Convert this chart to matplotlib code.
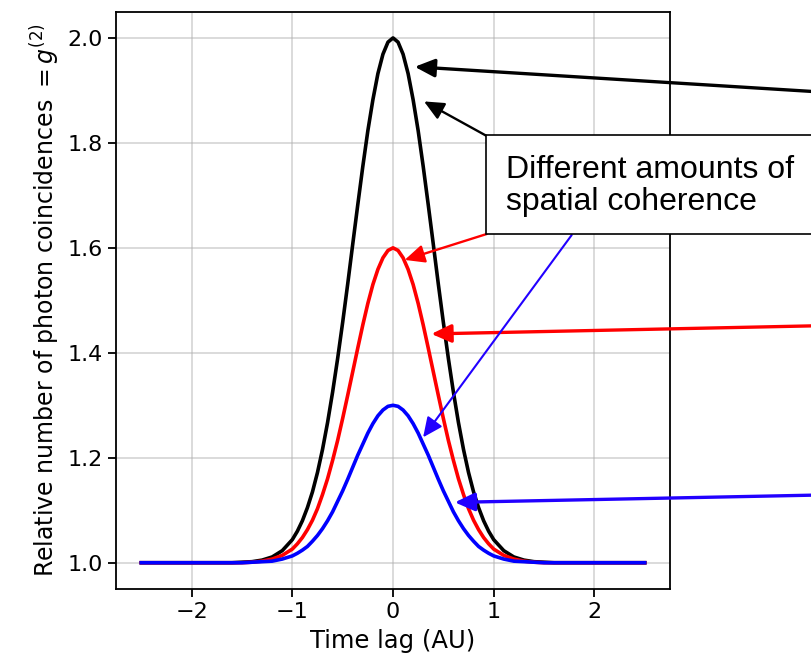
import matplotlib.pyplot as plt
from matplotlib.patches import Rectangle

# time lag samples (AU) and g2 values
time_lag = [-2.5, -2.0, -1.6, -1.5, -1.4, -1.3, -1.2, -1.1,
            -1.0, -0.95, -0.9, -0.85, -0.8, -0.75, -0.7, -0.65, -0.6, -0.55,
            -0.5, -0.45, -0.4, -0.35, -0.3, -0.25, -0.2, -0.15, -0.1, -0.05,
            0.0,
            0.05, 0.1, 0.15, 0.2, 0.25, 0.3, 0.35, 0.4, 0.45, 0.5,
            0.55, 0.6, 0.65, 0.7, 0.75, 0.8, 0.85, 0.9, 0.95, 1.0,
            1.1, 1.2, 1.3, 1.4, 1.5, 1.6, 2.0, 2.5]

g2_full = [1.000, 1.000, 1.000, 1.001, 1.002, 1.005, 1.011, 1.023,
           1.044, 1.060, 1.080, 1.105, 1.135, 1.172, 1.216, 1.267, 1.325, 1.389,
           1.458, 1.531, 1.607, 1.682, 1.755, 1.823, 1.882, 1.932, 1.969, 1.992,
           2.000,
           1.992, 1.969, 1.932, 1.882, 1.823, 1.755, 1.682, 1.607, 1.531, 1.458,
           1.389, 1.325, 1.267, 1.216, 1.172, 1.135, 1.105, 1.080, 1.060, 1.044,
           1.023, 1.011, 1.005, 1.002, 1.001, 1.000, 1.000, 1.000]

g2_partial = [1.000, 1.000, 1.000, 1.000, 1.001, 1.003, 1.007, 1.014,
              1.026, 1.036, 1.048, 1.063, 1.081, 1.103, 1.130, 1.160, 1.195, 1.233,
              1.275, 1.319, 1.364, 1.409, 1.453, 1.494, 1.530, 1.559, 1.581, 1.595,
              1.600,
              1.595, 1.581, 1.559, 1.530, 1.494, 1.453, 1.409, 1.364, 1.319, 1.275,
              1.233, 1.195, 1.160, 1.130, 1.103, 1.081, 1.063, 1.048, 1.036, 1.026,
              1.014, 1.007, 1.003, 1.001, 1.000, 1.000, 1.000, 1.000]

g2_low = [1.000, 1.000, 1.000, 1.000, 1.001, 1.002, 1.003, 1.007,
          1.013, 1.018, 1.024, 1.031, 1.041, 1.052, 1.065, 1.080, 1.097, 1.117,
          1.137, 1.159, 1.182, 1.205, 1.226, 1.247, 1.265, 1.280, 1.291, 1.298,
          1.300,
          1.298, 1.291, 1.280, 1.265, 1.247, 1.226, 1.205, 1.182, 1.159, 1.137,
          1.117, 1.097, 1.080, 1.065, 1.052, 1.041, 1.031, 1.024, 1.018, 1.013,
          1.007, 1.003, 1.002, 1.001, 1.000, 1.000, 1.000, 1.000]

box_text = "Different amounts of\nspatial coherence"

fig = plt.figure(figsize=(8.12, 6.64), dpi=100)
ax = fig.add_axes([0.143, 0.113, 0.682, 0.8694])

ax.plot(time_lag, g2_full, color='black', lw=2.6)
ax.plot(time_lag, g2_partial, color='red', lw=2.6)
ax.plot(time_lag, g2_low, color='blue', lw=2.6)

ax.grid(True, color='#b0b0b0', alpha=0.5, lw=1.3)
ax.tick_params(labelsize=16, length=5.8, width=1.3)
for s in ax.spines.values():
    s.set_linewidth(1.3)
ax.set_xlabel('Time lag (AU)', fontsize=17.5, labelpad=5)
ax.set_ylabel('Relative number of photon coincidences $= g^{(2)}$', fontsize=17)
ax.set_xticks([-2, -1, 0, 1, 2])
ax.set_yticks([1.0, 1.2, 1.4, 1.6, 1.8, 2.0])


def arrow(tip, tail, color, lw):
    ax.annotate('', xy=tip, xycoords='data',
                xytext=tail, textcoords='figure fraction',
                annotation_clip=False,
                arrowprops=dict(arrowstyle='-|>,head_length=1.2,head_width=0.55',
                                mutation_scale=10, color=color, lw=lw,
                                shrinkA=0, shrinkB=0))


# long arrows coming in from the right edge
arrow((0.216, 1.945), (1.03, 0.860), 'black', 2.4)
arrow((0.381, 1.436), (1.03, 0.510), 'red', 2.4)
arrow((0.614, 1.115), (1.03, 0.255), '#2200ff', 2.4)
# arrows from the text box
arrow((0.308, 1.879), (0.5994, 0.7952), 'black', 1.7)
arrow((0.116, 1.577), (0.5994, 0.6476), 'red', 1.7)
arrow((0.299, 1.239), (0.7041, 0.6461), '#2200ff', 1.5)

box = Rectangle((486 / 812, 430 / 664), 0.5, 99 / 664, transform=fig.transFigure,
                facecolor='white', edgecolor='black', lw=1.2, zorder=10)
fig.add_artist(box)
fig.text(506 / 812, 1 - 186 / 664, box_text, fontsize=23,
         family='Liberation Sans', va='center', ha='left',
         linespacing=1.12, zorder=11)

fig.savefig('out.png', dpi=100)
